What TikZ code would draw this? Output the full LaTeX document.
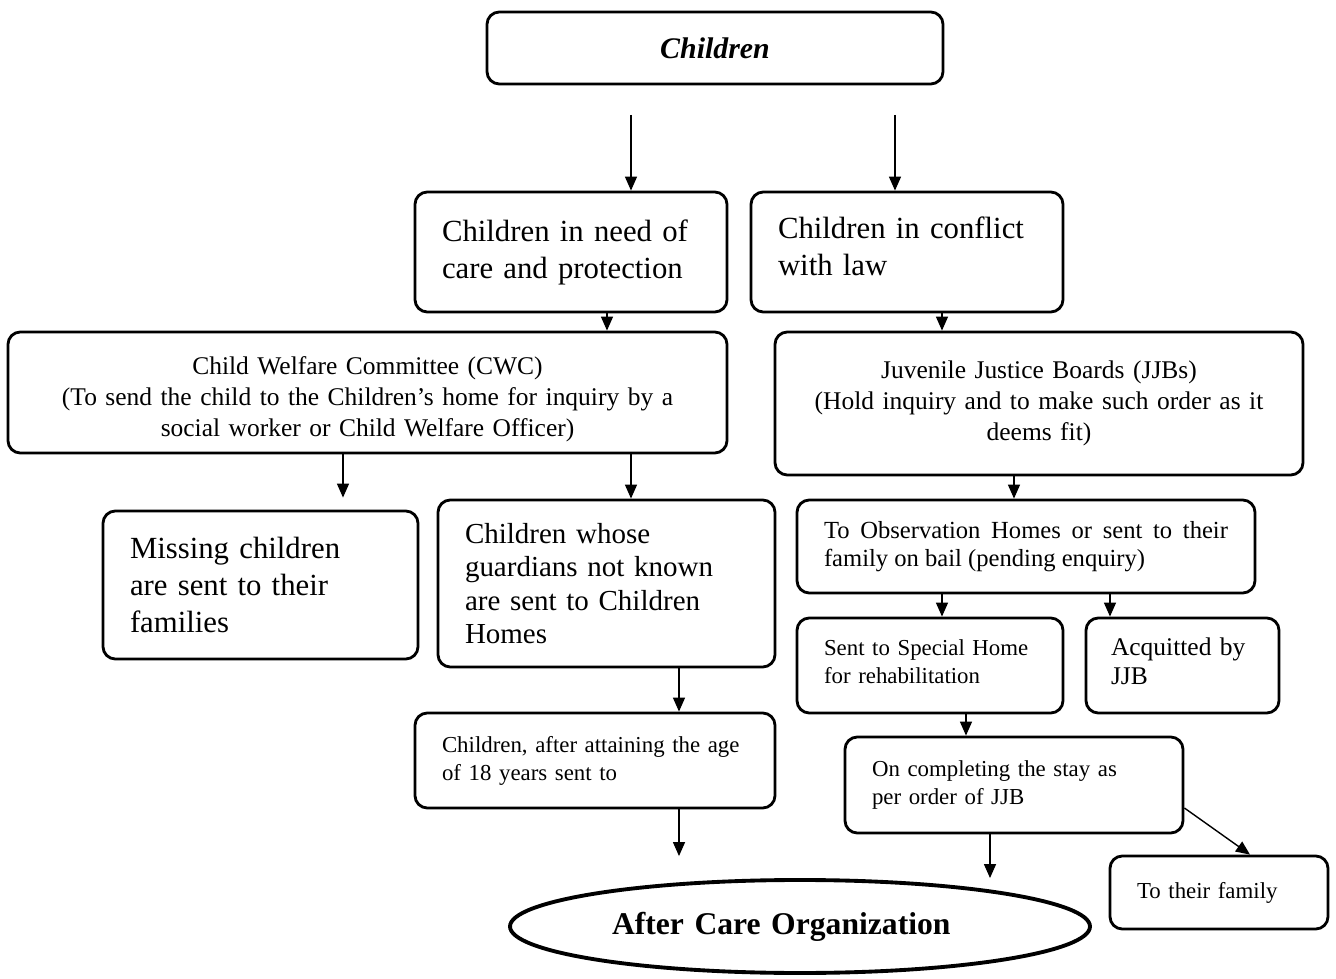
\documentclass[tikz,border=0pt]{standalone}
\usepackage{fontspec}
\setmainfont{Liberation Serif}
\usetikzlibrary{arrows.meta,positioning,shapes.geometric}
\tikzset{
    flowbox/.style={
        draw=black,
        fill=white,
        rounded corners=7pt,
        line width=1.6pt,
        inner xsep=0.54cm,
        inner ysep=0pt,
        align=left
    },
    centrebox/.style={
        flowbox,
        inner xsep=0.2cm,
        align=center
    },
    justbox/.style={
        flowbox,
        align=justify
    },
    bigtext/.style={font=\fontsize{17.5}{21}\selectfont},
    midtext/.style={font=\fontsize{14.5}{17.5}\selectfont},
    smalltext/.style={font=\fontsize{13}{16}\selectfont},
    aftercare/.style={
        ellipse,
        draw=black,
        line width=2.2pt,
        minimum width=11.6cm,
        minimum height=1.86cm,
        text width=7.52cm,
        align=left,
        font=\fontsize{18}{22}\selectfont\bfseries
    },
    flowarrow/.style={
        -{Triangle[length=2.8mm,width=2.4mm]},
        draw=black,
        line width=0.8pt
    }
}

\begin{document}
\begin{tikzpicture}
    \useasboundingbox (0,0) rectangle (26.72,-19.58);

    % top of the tree
    \node[centrebox, text width=8.72cm, minimum height=1.44cm,
        font=\fontsize{17}{21}\selectfont\bfseries\itshape] (children) at (14.30,-0.96) {Children};

    \node[flowbox, bigtext, text width=5.16cm, minimum height=2.40cm] (needcare) at (11.42,-5.04)
        {Children in need of\\care and protection};
    \node[flowbox, bigtext, text width=5.16cm, minimum height=2.40cm] (conflict) at (18.14,-5.04)
        {Children in conflict\\with law\strut};

    % care and protection branch
    \node[centrebox, midtext, text width=13.98cm, text height=18pt, minimum height=2.42cm] (cwc) at (7.35,-7.85)
        {Child Welfare Committee (CWC)\\(To send the child to the Children's home for inquiry by a\\social worker or Child Welfare Officer)};
    \node[flowbox, bigtext, text width=5.22cm, minimum height=2.96cm] (missing) at (5.21,-11.70)
        {Missing children\\are sent to their\\families};
    \node[flowbox, font=\fontsize{16.5}{19}\selectfont, text width=5.66cm, minimum height=3.34cm] (whose) at (12.13,-11.67)
        {Children whose\\guardians not known\\are sent to Children\\Homes};
    \node[flowbox, smalltext, text width=6.12cm, minimum height=1.90cm] (age18) at (11.90,-15.21)
        {Children, after attaining the age\\of 18 years sent to};

    % conflict with law branch
    \node[centrebox, midtext, text width=10.16cm, minimum height=2.86cm] (jjb) at (20.78,-8.07)
        {Juvenile Justice Boards (JJBs)\\(Hold inquiry and to make such order as it\\deems fit)};
    \node[justbox, font=\fontsize{14}{16}\selectfont, text width=8.08cm, minimum height=1.86cm] (observation) at (20.52,-10.93)
        {To Observation Homes or sent to their family on bail (pending enquiry)};
    \node[flowbox, smalltext, text width=4.24cm, minimum height=1.90cm] (special) at (18.60,-13.31)
        {Sent to Special Home\\for rehabilitation\strut};
    \node[flowbox, font=\fontsize{14.5}{16.5}\selectfont, inner xsep=0.5cm, text width=2.86cm, minimum height=1.90cm] (acquitted) at (23.65,-13.31)
        {Acquitted by\\JJB\strut};
    \node[flowbox, smalltext, text width=5.68cm, minimum height=1.92cm] (completing) at (20.28,-15.70)
        {On completing the stay as\\per order of JJB};
    \node[flowbox, smalltext, text width=3.28cm, minimum height=1.46cm] (family) at (24.38,-17.85)
        {To their family};

    \node[aftercare] (aftercareorg) at (16.00,-18.53) {After Care Organization};

    % connectors
    \coordinate (leftsplit) at (12.62,-2.30);
    \coordinate (rightsplit) at (17.90,-2.30);
    \coordinate (needcareout) at ([xshift=0.72cm]needcare.south);
    \coordinate (conflictout) at ([xshift=0.70cm]conflict.south);
    \coordinate (cwcleft) at ([xshift=-0.49cm]cwc.south);
    \coordinate (cwcright) at ([xshift=5.27cm]cwc.south);
    \coordinate (whoseout) at ([xshift=1.45cm]whose.south);
    \coordinate (age18out) at ([xshift=1.68cm]age18.south);
    \coordinate (jjbout) at ([xshift=-0.50cm]jjb.south);
    \coordinate (obsleft) at ([xshift=-1.68cm]observation.south);
    \coordinate (obsright) at ([xshift=1.68cm]observation.south);
    \coordinate (specialout) at ([xshift=0.72cm]special.south);
    \coordinate (completingout) at ([xshift=-0.48cm]completing.south);
    \coordinate (completingside) at ([yshift=-0.46cm]completing.east);
    \coordinate (familyin) at ([xshift=0.62cm]family.north);

    \draw[flowarrow] (leftsplit) -- (leftsplit |- needcare.north);
    \draw[flowarrow] (rightsplit) -- (rightsplit |- conflict.north);
    \draw[flowarrow] (needcareout) -- (needcareout |- cwc.north);
    \draw[flowarrow] (conflictout) -- (conflictout |- jjb.north);
    \draw[flowarrow, shorten >=0.24cm] (cwcleft) -- (cwcleft |- missing.north);
    \draw[flowarrow] (cwcright) -- (cwcright |- whose.north);
    \draw[flowarrow] (whoseout) -- (whoseout |- age18.north);
    \draw[flowarrow, shorten >=0.44cm] (age18out) -- (age18out |- aftercareorg.north);
    \draw[flowarrow] (jjbout) -- (jjbout |- observation.north);
    \draw[flowarrow] (obsleft) -- (obsleft |- special.north);
    \draw[flowarrow] (obsright) -- (obsright |- acquitted.north);
    \draw[flowarrow] (specialout) -- (specialout |- completing.north);
    \draw[flowarrow] (completingout) -- (completingout |- aftercareorg.north);
    \draw[flowarrow] (completingside) -- (familyin);
\end{tikzpicture}
\end{document}
